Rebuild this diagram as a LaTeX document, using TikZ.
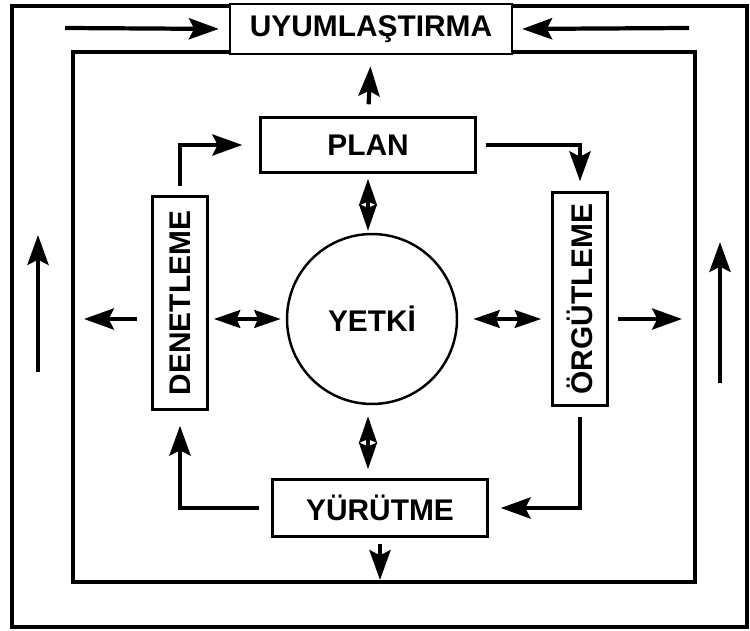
\documentclass[tikz,border=0pt]{standalone}
\usepackage{fontspec}
\setmainfont{Liberation Sans}
\usetikzlibrary{arrows.meta,calc}

\begin{document}
\begin{tikzpicture}[x=0.02cm, y=-0.02cm,
		box/.style={draw, line width=1.4pt, fill=white, inner sep=0pt, font=\fontsize{17}{20}\selectfont\bfseries},
		frame/.style={line width=1.8pt},
		arr/.style={line width=2.4pt, -{Stealth[length=17pt,width=12pt,inset=3pt]}},
		dbl/.style={line width=2.4pt, {Stealth[length=15pt,width=10pt,inset=2pt]}-{Stealth[length=15pt,width=10pt,inset=2pt]}}]
			%%%%% START %%%%%
			
			\useasboundingbox (0, 0) rectangle (750, 631);
			
			\draw[frame] (12, 6) rectangle (747, 627);
			\coordinate (inNW) at (73, 52);
			\coordinate (inSE) at (695, 582);
			\draw[frame] (inNW) rectangle (inSE);
			
			\node[box, minimum width=5.64cm, minimum height=1cm] (uyum) at (371, 29) {UYUMLAŞTIRMA};
			\node[box, minimum width=4.3cm, minimum height=1.1cm] (plan) at (368, 145) {PLAN};
			\node[box, minimum width=4.3cm, minimum height=1.14cm] (yurutme) at (380, 508) {YÜRÜTME};
			\node[box, minimum width=1.1cm, minimum height=4.26cm] (den) at (180, 303) {\rotatebox{90}{DENETLEME}};
			\node[box, minimum width=1.1cm, minimum height=4.26cm] (orgut) at (580, 299) {\rotatebox{90}{ÖRGÜTLEME}};
			\node[box, circle, minimum size=3.4cm] (yetki) at (372, 319) {YETKİ};
			
			% outer loop
			\coordinate (tl) at (65, 28);
			\coordinate (tr) at (689, 28);
			\draw[arr, shorten >=0.2cm] (tl) -- (uyum.west);
			\draw[arr, shorten >=0.18cm] (tr) -- (uyum.east);
			\coordinate (lb) at (38, 372);
			\coordinate (lt) at (38, 235);
			\draw[arr] (lb) -- (lt);
			\coordinate (rb) at (720, 383);
			\coordinate (rt) at (720, 242);
			\draw[arr] (rb) -- (rt);
			
			\draw[arr, shorten <=0.24cm, shorten >=0.22cm] (plan.north) -- (uyum.south);
			\draw[arr, shorten <=0.12cm, shorten >=0.04cm] (yurutme.south) -- (yurutme.south |- inSE);
			\draw[arr, shorten <=0.28cm, shorten >=0.22cm] (den.west |- yetki.west) -- (inNW |- yetki.west);
			\draw[arr, shorten <=0.19cm, shorten >=0.26cm] (orgut.east |- yetki.east) -- (inSE |- yetki.east);
			
			% around the centre
			\draw[dbl, shorten <=0.1cm, shorten >=0.04cm] (plan.south) -- (plan.south |- yetki.north);
			\draw[dbl, shorten <=0.22cm, shorten >=0.18cm] (plan.south |- yetki.south) -- (plan.south |- yurutme.north);
			\draw[dbl, shorten <=0.1cm, shorten >=0.1cm] (den.east |- yetki.west) -- (yetki.west);
			\draw[dbl, shorten <=0.3cm, shorten >=0.2cm] (yetki.east) -- (orgut.west |- yetki.east);
			
			\draw[arr, shorten <=0.18cm, shorten >=0.34cm] (den.north) |- (plan.west);
			\draw[arr, shorten <=0.18cm, shorten >=0.2cm] (plan.east) -| (orgut.north);
			\draw[arr, shorten <=0.21cm, shorten >=0.24cm] (orgut.south) |- (yurutme.east);
			\draw[arr, shorten <=0.24cm, shorten >=0.3cm] (yurutme.west) -| (den.south);
			
			%%%%% END %%%%%
\end{tikzpicture}
\end{document}
